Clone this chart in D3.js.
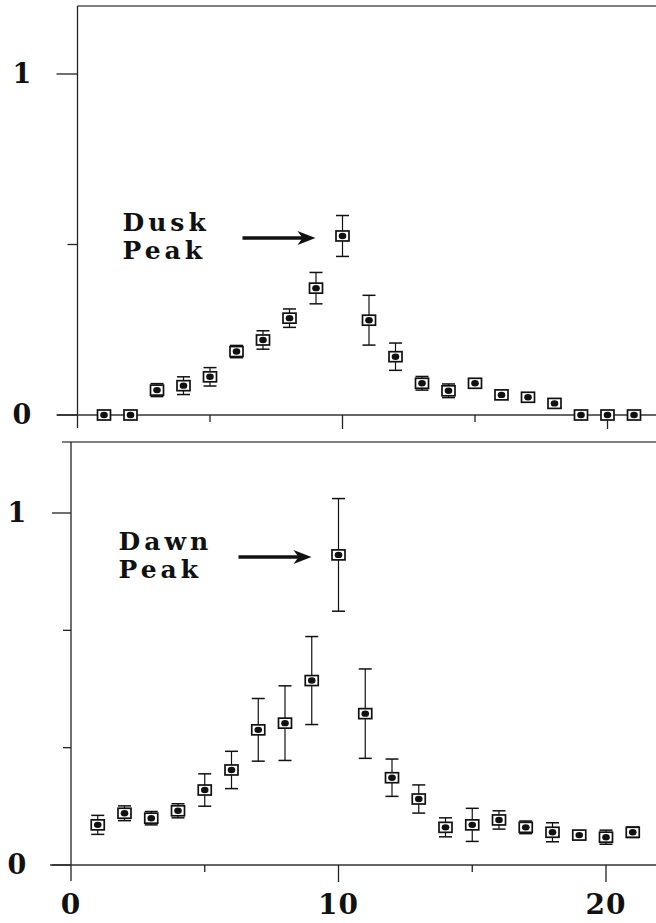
<!DOCTYPE html>
<html>
<head>
<meta charset="utf-8">
<script src="https://cdn.jsdelivr.net/npm/d3@7"></script>
<style>
  body { margin: 0; background: #fff; }
  svg { display: block; }
  .lbl { font-family: 'DejaVu Serif', 'Liberation Serif', serif; font-weight: bold; fill: #111; }
</style>
</head>
<body>
<div class="container"></div>
<script>
const hours = d3.range(1, 22);

// top panel (dusk)
const duskMean = [0, 0, 0.073, 0.086, 0.112, 0.186, 0.22, 0.284, 0.372, 0.525, 0.278,
  0.171, 0.093, 0.071, 0.093, 0.059, 0.052, 0.034, 0, 0, 0];
const duskErr = [0, 0, 0.019, 0.026, 0.027, 0.018, 0.027, 0.027, 0.046, 0.06, 0.073,
  0.04, 0.02, 0.02, 0, 0, 0, 0, 0, 0, 0];

// bottom panel (dawn)
const dawnMean = [0.114, 0.147, 0.133, 0.154, 0.213, 0.27, 0.384, 0.403, 0.524, 0.881, 0.43,
  0.248, 0.1875, 0.107, 0.114, 0.128, 0.107, 0.093, 0.085, 0.079, 0.093];
const dawnErr = [0.027, 0.021, 0.019, 0.02, 0.046, 0.053, 0.089, 0.106, 0.125, 0.16, 0.127,
  0.053, 0.04, 0.027, 0.047, 0.026, 0.018, 0.027, 0, 0.02, 0.015];

const xTicksMajor = [10, 20];
const xTicksMinor = [5, 15];
const xLabels = [0, 10, 20];

const width = 656;
const height = 923;

const svg = d3
  .select('.container')
  .append('svg')
  .attr('width', width)
  .attr('height', height);

const panels = [
  {
    mean: duskMean, err: duskErr, title: ['Dusk', 'Peak'], peak: 10,
    x0: 77.5, unit: 26.5, y0: 415, yUnit: 341,
    yMajor: [0, 1], yMinor: [0.5], labelX: 22, majorLen: 21, minorLen: 10,
    axisTop: 6, axisBottom: 428, tickDownMajor: 14, tickDownMinor: 7, xLeft: 57
  },
  {
    mean: dawnMean, err: dawnErr, title: ['Dawn', 'Peak'], peak: 10,
    x0: 71, unit: 26.75, y0: 865, yUnit: 352,
    yMajor: [0, 1], yMinor: [1 / 3, 2 / 3], labelX: 17, majorLen: 19, minorLen: 8,
    axisTop: 442, axisBottom: 881, tickDownMajor: 17, tickDownMinor: 7, xLeft: 50
  }
];

const drawPanel = p => {
  const x = d3.scaleLinear().domain([0, 22]).range([p.x0, p.x0 + 22 * p.unit]);
  const y = d3.scaleLinear().domain([0, 1.2]).range([p.y0, p.y0 - 1.2 * p.yUnit]);
  const g = svg.append('g');

  // frame: top line + left axis
  g.append('line')
    .attr('x1', p === panels[0] ? x(0) : x(0) - 9).attr('x2', width)
    .attr('y1', p.axisTop).attr('y2', p.axisTop)
    .attr('stroke', '#555').attr('stroke-width', 1.3);
  g.append('line')
    .attr('x1', x(0)).attr('x2', x(0))
    .attr('y1', p.axisTop).attr('y2', p.axisBottom)
    .attr('stroke', '#222').attr('stroke-width', 1.3);

  // x axis line at 0
  g.append('line')
    .attr('x1', p.xLeft).attr('x2', width)
    .attr('y1', y(0)).attr('y2', y(0))
    .attr('stroke', '#333').attr('stroke-width', 1.3);

  // y ticks
  g.selectAll('.ymaj').data(p.yMajor).enter().append('line')
    .attr('x1', x(0) - p.majorLen).attr('x2', x(0))
    .attr('y1', d => y(d)).attr('y2', d => y(d))
    .attr('stroke', '#222').attr('stroke-width', 1.3);
  g.selectAll('.ymin').data(p.yMinor).enter().append('line')
    .attr('x1', x(0) - p.minorLen).attr('x2', x(0))
    .attr('y1', d => y(d)).attr('y2', d => y(d))
    .attr('stroke', '#222').attr('stroke-width', 1.3);
  g.selectAll('.ylab').data(p.yMajor).enter().append('text')
    .attr('class', 'lbl')
    .attr('x', p.labelX).attr('y', d => y(d) + 9)
    .attr('text-anchor', 'middle')
    .attr('font-size', 27)
    .text(d => d);

  // x ticks (downward)
  g.selectAll('.xmaj').data(xTicksMajor).enter().append('line')
    .attr('x1', d => x(d)).attr('x2', d => x(d))
    .attr('y1', y(0)).attr('y2', y(0) + p.tickDownMajor)
    .attr('stroke', '#222').attr('stroke-width', 1.3);
  g.selectAll('.xmin').data(xTicksMinor).enter().append('line')
    .attr('x1', d => x(d)).attr('x2', d => x(d))
    .attr('y1', y(0)).attr('y2', y(0) + p.tickDownMinor)
    .attr('stroke', '#222').attr('stroke-width', 1.3);

  // error bars
  const pts = hours.map((h, i) => ({ h, m: p.mean[i], e: p.err[i] }));
  const bars = g.selectAll('.eb').data(pts.filter(d => d.e > 0)).enter().append('g');
  bars.append('line')
    .attr('x1', d => x(d.h)).attr('x2', d => x(d.h))
    .attr('y1', d => y(d.m + d.e)).attr('y2', d => y(d.m - d.e))
    .attr('stroke', '#111').attr('stroke-width', 1.2);
  [1, -1].forEach(s => {
    bars.append('line')
      .attr('x1', d => x(d.h) - 6.5).attr('x2', d => x(d.h) + 6.5)
      .attr('y1', d => y(d.m + s * d.e)).attr('y2', d => y(d.m + s * d.e))
      .attr('stroke', '#111').attr('stroke-width', 1.5);
  });

  // markers: box with dot
  const mk = g.selectAll('.mk').data(pts).enter().append('g')
    .attr('transform', d => `translate(${x(d.h)},${y(d.m)})`);
  mk.append('rect')
    .attr('x', -6.5).attr('y', -5).attr('width', 13).attr('height', 10)
    .attr('fill', '#fff').attr('stroke', '#111').attr('stroke-width', 1.7);
  mk.append('ellipse')
    .attr('rx', 3.8).attr('ry', 3.2).attr('fill', '#111');

  // annotation
  const peakVal = p.mean[p.peak - 1];
  const ay = y(peakVal) + 2;
  const ax2 = x(p.peak) - 27;
  const ax1 = ax2 - 73;
  g.append('line')
    .attr('x1', ax1).attr('x2', ax2 - 12)
    .attr('y1', ay).attr('y2', ay)
    .attr('stroke', '#111').attr('stroke-width', 3.5);
  g.append('path')
    .attr('d', `M${ax2},${ay} L${ax2 - 18},${ay - 7} L${ax2 - 13},${ay} L${ax2 - 18},${ay + 7} Z`)
    .attr('fill', '#111');
  g.selectAll('.ttl').data(p.title).enter().append('text')
    .attr('class', 'lbl')
    .attr('x', ax1 - 120).attr('y', (d, i) => ay - 7 + i * 28)
    .attr('font-size', 25)
    .attr('letter-spacing', 4)
    .text(d => d);

  return x;
};

panels.forEach(drawPanel);

// bottom x labels
const xb = d3.scaleLinear().domain([0, 22]).range([71, 71 + 22 * 26.75]);
svg.selectAll('.xlab').data(xLabels).enter().append('text')
  .attr('class', 'lbl')
  .attr('x', d => xb(d)).attr('y', 914)
  .attr('text-anchor', 'middle')
  .attr('font-size', 28)
  .attr('letter-spacing', 1)
  .text(d => d);
</script>
</body>
</html>
